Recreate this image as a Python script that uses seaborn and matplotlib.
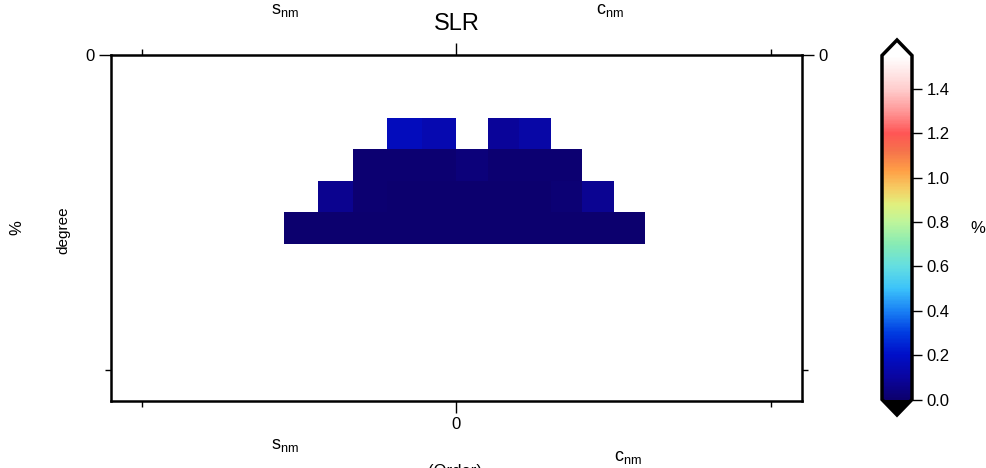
# SLR coefficient uncertainty plot (degree vs order)
import numpy as np
import pandas as pd
import seaborn as sns
import matplotlib.pyplot as plt
from matplotlib.colors import LinearSegmentedColormap

nan = np.nan

# degrees shown in the grid
degrees = [2, 3, 4, 5]

# s_nm side (orders -5 .. -1)
s_orders = [-5, -4, -3, -2, -1]
s_deg2 = [nan, nan, nan, 0.17, 0.14]
s_deg3 = [nan, nan, 0.01, 0.01, 0.01]
s_deg4 = [nan, 0.07, 0.01, 0.005, 0.005]
s_deg5 = [0.005, 0.005, 0.005, 0.005, 0.005]

# c_nm side (orders 0 .. 5)
c_orders = [0, 1, 2, 3, 4, 5]
c_deg2 = [nan, 0.09, 0.12, nan, nan, nan]
c_deg3 = [0.03, 0.01, 0.01, 0.01, nan, nan]
c_deg4 = [0.005, 0.005, 0.005, 0.015, 0.075, nan]
c_deg5 = [0.005, 0.005, 0.005, 0.005, 0.005, 0.005]

cbar_ticks = [0.0, 0.2, 0.4, 0.6, 0.8, 1.0, 1.2, 1.4]
vmin, vmax = 0.0, 1.55

df_s = pd.DataFrame([s_deg2, s_deg3, s_deg4, s_deg5], index=degrees, columns=s_orders)
df_c = pd.DataFrame([c_deg2, c_deg3, c_deg4, c_deg5], index=degrees, columns=c_orders)

# haxby-like palette
nodes = [(0.00, (12, 0, 110)), (0.10, (10, 5, 160)), (0.20, (0, 15, 200)),
         (0.30, (0, 60, 225)), (0.40, (26, 130, 245)), (0.50, (60, 195, 250)),
         (0.60, (100, 222, 225)), (0.70, (135, 235, 180)), (0.80, (190, 245, 155)),
         (0.88, (225, 240, 125)), (0.95, (245, 205, 100)), (1.03, (255, 160, 70)),
         (1.12, (245, 115, 75)), (1.20, (255, 85, 85)), (1.30, (255, 150, 150)),
         (1.40, (255, 205, 205)), (1.55, (255, 255, 255))]
cmap = LinearSegmentedColormap.from_list(
    'haxby_like', [(v / vmax, tuple(c / 255 for c in rgb)) for v, rgb in nodes])
cmap.set_over('white')
cmap.set_under('black')

sns.set_style('white')
plt.rcParams['font.family'] = ['Liberation Sans', 'DejaVu Sans']
plt.rcParams['mathtext.fontset'] = 'custom'
plt.rcParams['mathtext.rm'] = 'Liberation Sans'
plt.rcParams['mathtext.it'] = 'Liberation Sans:italic'
for k in ['text.color', 'axes.labelcolor', 'xtick.color', 'ytick.color']:
    plt.rcParams[k] = 'black'

W, H = 987, 468
fig = plt.figure(figsize=(W / 100, H / 100), dpi=100)
ax = fig.add_axes([111 / W, 1 - 401 / H, 691 / W, 346 / H])
# colorbar axes includes the two end triangles
cax = fig.add_axes([882 / W, 1 - 415 / H, 30 / W, 375 / H])

xmin, xmax = -11, 11
ymax = 11
ax.set_xlim(xmin, xmax)
ax.set_ylim(ymax, 0)

def frac_x(v):
    return (v - xmin) / (xmax - xmin)

def frac_y(v):
    return (ymax - v) / ymax

# cell blocks placed in the order/degree frame
top, bottom = degrees[0], degrees[-1] + 1
s_left = -5.5
c_right = c_orders[-1] + 1
hs = ax.inset_axes([frac_x(s_left), frac_y(bottom), frac_x(0) - frac_x(s_left),
                    frac_y(top) - frac_y(bottom)])
hc = ax.inset_axes([frac_x(0), frac_y(bottom), frac_x(c_right) - frac_x(0),
                    frac_y(top) - frac_y(bottom)])

sns.heatmap(df_s, ax=hs, cmap=cmap, vmin=vmin, vmax=vmax, cbar=True, cbar_ax=cax,
            cbar_kws=dict(extend='both', ticks=cbar_ticks, extendfrac=0.045))
sns.heatmap(df_c, ax=hc, cmap=cmap, vmin=vmin, vmax=vmax, cbar=False)
for h in (hs, hc):
    h.axis('off')

# frame, ticks
for sp in ax.spines.values():
    sp.set_linewidth(1.8)
    sp.set_color('black')
ax.set_xticks([0])
ax.set_xticks([-10, 10], minor=True)
ax.set_yticks([0])
ax.set_yticks([10], minor=True)
ax.tick_params(which='both', direction='out', top=True, right=True, bottom=True, left=True,
               labeltop=False, labelright=True, labelbottom=True, labelleft=True,
               color='black', width=1, labelsize=12)
ax.tick_params(which='major', length=8.5, pad=3)
ax.tick_params(which='minor', length=4.5)

cbar = hs.collections[0].colorbar
cbar.outline.set_linewidth(2.5)
cbar.outline.set_edgecolor('black')
cbar.ax.tick_params(length=7.5, width=1, labelsize=12, pad=3, color='black')
cbar.ax.set_yticklabels(['%.1f' % t for t in cbar_ticks])

# texts
sub_s = r'$\mathregular{s_{nm}}$'
sub_c = r'$\mathregular{c_{nm}}$'
fig.text(457 / W, 1 - 24 / H, 'SLR', ha='center', va='center', fontsize=17)
fig.text(285 / W, 1 - 2 / H, sub_s, ha='center', va='top', fontsize=13)
fig.text(610 / W, 1 - 2 / H, sub_c, ha='center', va='top', fontsize=13)
fig.text(285 / W, 1 - 445 / H, sub_s, ha='center', va='center', fontsize=13)
fig.text(628 / W, 1 - 457 / H, sub_c, ha='center', va='center', fontsize=13)
fig.text(455 / W, 1 - 464 / H, '(Order)', ha='center', va='top', fontsize=12)
fig.text(17 / W, 1 - 228 / H, '%', ha='center', va='center', rotation=90, fontsize=12)
fig.text(63 / W, 1 - 230 / H, 'degree', ha='center', va='center', rotation=90, fontsize=11)
fig.text(978 / W, 1 - 228 / H, '%', ha='center', va='center', fontsize=12)

fig.savefig('out.png', dpi=100)
